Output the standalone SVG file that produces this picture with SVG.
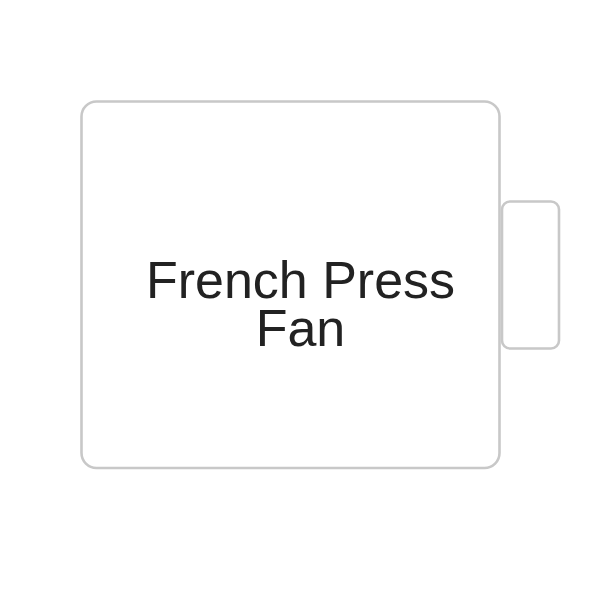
<svg xmlns="http://www.w3.org/2000/svg" width="600" height="600" viewBox="0 0 600 600">
<style>
.box{fill:#fff;stroke:#c8c8c8;stroke-width:2.6}
.lbl{font-family:"Liberation Sans",Arial,sans-serif;font-size:52px;fill:#222;text-anchor:middle}
</style>
<rect width="600" height="600" fill="#fff"/>
<g id="main">
<rect class="box" x="81.5" y="101.5" width="418" height="366.5" rx="15"/>
<text class="lbl" x="300.5" y="298">French Press</text>
<text class="lbl" x="300.5" y="346">Fan</text>
</g>
<g id="side">
<rect class="box" x="502" y="201.5" width="57" height="147" rx="8"/>
</g>
<g id="connectors"/>
</svg>
